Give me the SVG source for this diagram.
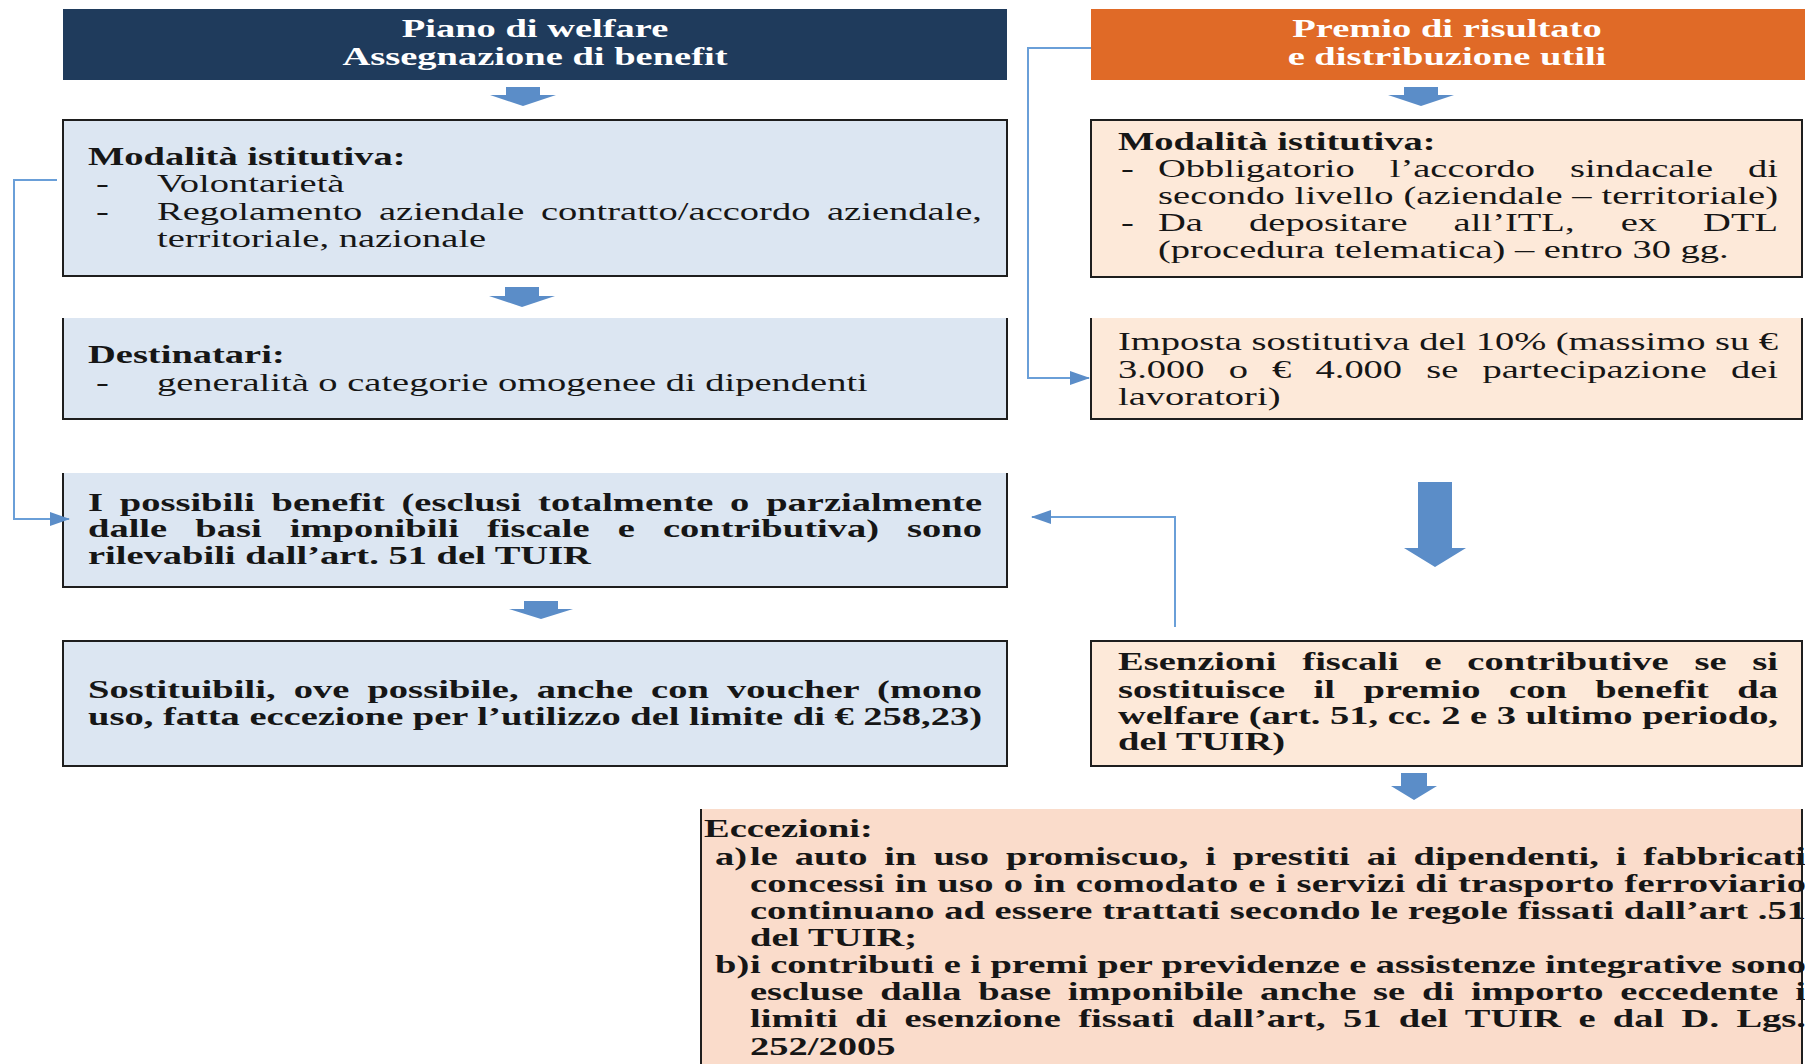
<svg xmlns="http://www.w3.org/2000/svg" width="1805" height="1064" viewBox="0 0 1805 1064">
<style>
text{font-family:"Liberation Serif","Times New Roman",serif;font-size:26px;fill:#161616}
.b{font-weight:bold}
.hd{font-weight:bold;fill:#ffffff;text-anchor:middle}
.blue{fill:#dce6f2}
.peach{fill:#fde9d9}
.peach2{fill:#fadccb}
.bd{fill:none;stroke:#1e1e1e;stroke-width:2}
.arr{fill:#5b8dc8}
.con{fill:none;stroke:#6a9fd8;stroke-width:2}
</style>
<defs>
<marker id="ah" markerUnits="userSpaceOnUse" markerWidth="20" markerHeight="14" refX="19" refY="7" orient="auto">
<path d="M0,0 L20,7 L0,14 z" fill="#5b8dc8"/>
</marker>
</defs>

<g id="hdr-left">
<rect x="63" y="9" width="944" height="71" fill="#1f3b5c"/>
<g transform="scale(1.481 1)">
<text class="hd" x="361.24" y="37">Piano di welfare</text>
<text class="hd" x="361.24" y="65">Assegnazione di benefit</text>
</g>
</g>

<g id="hdr-right">
<rect x="1091" y="9" width="714" height="71" fill="#e06a27"/>
<g transform="scale(1.481 1)">
<text class="hd" x="977.04" y="37">Premio di risultato</text>
<text class="hd" x="977.04" y="65">e distribuzione utili</text>
</g>
</g>

<g id="mod-left">
<rect class="blue" x="63" y="120" width="944" height="156"/>
<path class="bd" d="M63,120 H1007 V276 H63 Z"/>
<g transform="scale(1.481 1)">
<text class="b" x="59.42" y="165">Modalità istitutiva:</text>
<text x="64.82" y="192.5">-</text>
<text x="106.01" y="192.5">Volontarietà</text>
<text x="64.82" y="220">-</text>
<text x="106.01" y="220" word-spacing="4.7" textLength="557.06" lengthAdjust="spacing">Regolamento aziendale contratto/accordo aziendale,</text>
<text x="106.01" y="247.5">territoriale, nazionale</text>
</g>
</g>

<g id="destinatari">
<rect class="blue" x="63" y="318" width="944" height="101"/>
<path class="bd" d="M63,318 V419 H1007 V318"/>
<g transform="scale(1.481 1)">
<text class="b" x="59.42" y="363">Destinatari:</text>
<text x="64.82" y="391">-</text>
<text x="106.01" y="391">generalità o categorie omogenee di dipendenti</text>
</g>
</g>

<g id="benefit">
<rect class="blue" x="63" y="473" width="944" height="114"/>
<path class="bd" d="M63,473 V587 H1007 V473"/>
<g transform="scale(1.481 1)">
<text class="b" x="59.42" y="511" word-spacing="4.9" textLength="603.65" lengthAdjust="spacing">I possibili benefit (esclusi totalmente o parzialmente</text>
<text class="b" x="59.42" y="537.5" word-spacing="12.5" textLength="603.65" lengthAdjust="spacing">dalle basi imponibili fiscale e contributiva) sono</text>
<text class="b" x="59.42" y="564">rilevabili dall’art. 51 del TUIR</text>
</g>
</g>

<g id="sostituibili">
<rect class="blue" x="63" y="641" width="944" height="125"/>
<path class="bd" d="M63,641 H1007 V766 H63 Z"/>
<g transform="scale(1.481 1)">
<text class="b" x="59.42" y="698" word-spacing="5.7" textLength="603.65" lengthAdjust="spacing">Sostituibili, ove possibile, anche con voucher (mono</text>
<text class="b" x="59.42" y="725" textLength="603.65" lengthAdjust="spacing">uso, fatta eccezione per l’utilizzo del limite di € 258,23)</text>
</g>
</g>

<g id="mod-right">
<rect class="peach" x="1091" y="120" width="711" height="157"/>
<path class="bd" d="M1091,120 H1802 V277 H1091 Z"/>
<g transform="scale(1.481 1)">
<text class="b" x="754.90" y="150.5">Modalità istitutiva:</text>
<text x="756.92" y="177">-</text>
<text x="781.90" y="177" word-spacing="17" textLength="418.64" lengthAdjust="spacing">Obbligatorio l’accordo sindacale di</text>
<text x="781.90" y="204" textLength="418.64" lengthAdjust="spacing">secondo livello (aziendale – territoriale)</text>
<text x="756.92" y="231">-</text>
<text x="781.90" y="231" word-spacing="24.6" textLength="418.64" lengthAdjust="spacing">Da depositare all’ITL, ex DTL</text>
<text x="781.90" y="258">(procedura telematica) – entro 30 gg.</text>
</g>
</g>

<g id="imposta">
<rect class="peach" x="1091" y="318" width="711" height="101"/>
<path class="bd" d="M1091,318 V419 H1802 V318"/>
<g transform="scale(1.481 1)">
<text x="754.90" y="350" textLength="445.65" lengthAdjust="spacing">Imposta sostitutiva del 10% (massimo su €</text>
<text x="754.90" y="378" word-spacing="9.8" textLength="445.65" lengthAdjust="spacing">3.000 o € 4.000 se partecipazione dei</text>
<text x="754.90" y="405">lavoratori)</text>
</g>
</g>

<g id="esenzioni">
<rect class="peach" x="1091" y="641" width="711" height="125"/>
<path class="bd" d="M1091,641 H1802 V766 H1091 Z"/>
<g transform="scale(1.481 1)">
<text class="b" x="754.90" y="670.5" word-spacing="10.9" textLength="445.65" lengthAdjust="spacing">Esenzioni fiscali e contributive se si</text>
<text class="b" x="754.90" y="698" word-spacing="12.7" textLength="445.65" lengthAdjust="spacing">sostituisce il premio con benefit da</text>
<text class="b" x="754.90" y="724" textLength="445.65" lengthAdjust="spacing">welfare (art. 51, cc. 2 e 3 ultimo periodo,</text>
<text class="b" x="754.90" y="750">del TUIR)</text>
</g>
</g>

<g id="eccezioni">
<rect class="peach2" x="701" y="809" width="1102" height="260"/>
<path class="bd" d="M701,809 V1064 M1802,809 V1064"/>
<g transform="scale(1.481 1)">
<text class="b" x="475.35" y="837">Eccezioni:</text>
<text class="b" x="482.78" y="865">a)</text>
<text class="b" x="506.41" y="865" word-spacing="4.9" textLength="713.03" lengthAdjust="spacing">le auto in uso promiscuo, i prestiti ai dipendenti, i fabbricati</text>
<text class="b" x="506.41" y="892" textLength="713.03" lengthAdjust="spacing">concessi in uso o in comodato e i servizi di trasporto ferroviario</text>
<text class="b" x="506.41" y="919" textLength="713.03" lengthAdjust="spacing">continuano ad essere trattati secondo le regole fissati dall’art .51</text>
<text class="b" x="506.41" y="946">del TUIR;</text>
<text class="b" x="482.78" y="973">b)</text>
<text class="b" x="506.41" y="973" textLength="713.03" lengthAdjust="spacing">i contributi e i premi per previdenze e assistenze integrative sono</text>
<text class="b" x="506.41" y="1000" word-spacing="4.9" textLength="713.03" lengthAdjust="spacing">escluse dalla base imponibile anche se di importo eccedente i</text>
<text class="b" x="506.41" y="1027" word-spacing="5.2" textLength="713.03" lengthAdjust="spacing">limiti di esenzione fissati dall’art, 51 del TUIR e dal D. Lgs.</text>
<text class="b" x="506.41" y="1055">252/2005</text>
</g>
</g>

<g id="connectors">
<path class="arr" d="M506,87 H540 V95 H556 L523,106 L490,95 H506 Z"/>
<path class="arr" d="M505,287 H539 V296 H555 L522,307 L489,296 H505 Z"/>
<path class="arr" d="M524,601 H558 V609 H573 L541,619 L509,609 H524 Z"/>
<path class="arr" d="M1404,87 H1438 V95 H1454 L1421,106 L1388,95 H1404 Z"/>
<path class="arr" d="M1418,482 H1452 V548 H1466 L1435,567 L1404,548 H1418 Z"/>
<path class="arr" d="M1401,773 H1427 V786 H1437 L1414,800 L1391,786 H1401 Z"/>
<path class="con" d="M57,180 H14 V519 H69" marker-end="url(#ah)"/>
<path class="con" d="M1091,48 H1028 V378 H1089" marker-end="url(#ah)"/>
<path class="con" d="M1175,627 V517 H1032" marker-end="url(#ah)"/>
</g>
</svg>
